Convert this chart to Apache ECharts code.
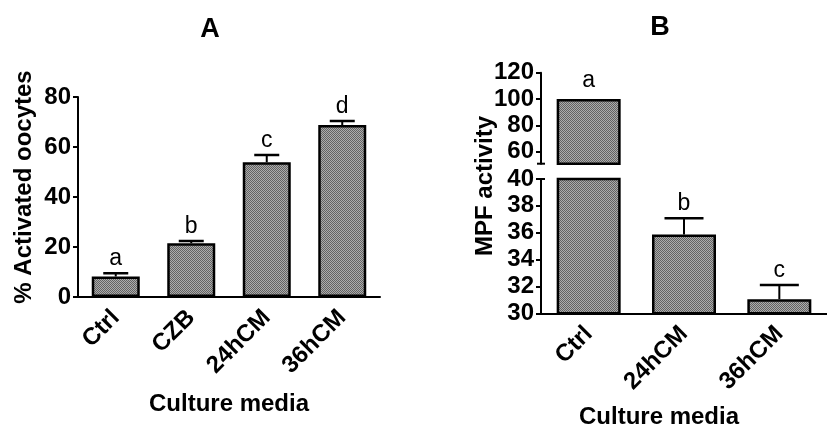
<!DOCTYPE html>
<html><head><meta charset="utf-8">
<script src="https://cdn.jsdelivr.net/npm/echarts@6/dist/echarts.min.js"></script>
<style>html,body{margin:0;padding:0;background:#fff}#c{width:827px;height:427px}</style>
</head><body><div id="c"></div>
<script>
// ---- data ----
const catsA = ['Ctrl', 'CZB', '24hCM', '36hCM'];
const valsA = [8.2, 21.5, 53.9, 68.8];
const errA = [9.5, 22.4, 56.8, 70.4];
const lettersA = ['a', 'b', 'c', 'd'];
const ticksA = [0, 20, 40, 60, 80];

const catsB = ['Ctrl', '24hCM', '36hCM'];
const valsB = [100, 35.87, 31.05];
const errB = [100, 37.07, 32.1];
const lettersB = ['a', 'b', 'c'];
const ticksBUpper = [60, 80, 100, 120];
const ticksBLower = [30, 32, 34, 36, 38, 40];
const upperMinB = 51;

// ---- styles ----
const FONT = "'Liberation Sans', Arial, sans-serif";
function makePattern() {
  const c = document.createElement('canvas');
  c.width = 2; c.height = 2;
  const g = c.getContext('2d');
  g.fillStyle = '#acacac'; g.fillRect(0, 0, 2, 2);
  g.fillStyle = '#626262'; g.fillRect(0, 0, 1, 1); g.fillRect(1, 1, 1, 1);
  return c;
}
const pattern = { image: makePattern(), repeat: 'repeat' };
const barStyle = { color: pattern, borderColor: '#000', borderWidth: 2.5 };
const labelFont = { color: '#000', fontSize: 24, fontWeight: 'bold', fontFamily: FONT };

function catAxis(grid, cats, show) {
  return {
    type: 'category', gridIndex: grid, data: cats, show: show,
    axisLine: { lineStyle: { color: '#000', width: 2 } },
    axisTick: { alignWithLabel: true, length: 6, lineStyle: { color: '#000', width: 2 } },
    axisLabel: Object.assign({ rotate: 45, margin: 17, interval: 0 }, labelFont)
  };
}
function valAxis(grid, min, max, extra) {
  return Object.assign({
    type: 'value', gridIndex: grid, min: min, max: max,
    splitLine: { show: false },
    axisLine: { show: true, lineStyle: { color: '#000', width: 2 } },
    axisTick: { show: true, length: 5, lineStyle: { color: '#000', width: 2 } },
    axisLabel: Object.assign({ margin: 7 }, labelFont)
  }, extra || {});
}

function errSeries(xi, yi, vals, errs, letters, capHalf, filter) {
  const data = [];
  vals.forEach((v, i) => { if (filter(i)) data.push([i, v, errs[i], i]); });
  return {
    type: 'custom', xAxisIndex: xi, yAxisIndex: yi, z: 5, clip: false,
    data: data,
    renderItem: function (params, api) {
      const i = api.value(0);
      const p0 = api.coord([i, api.value(1)]);
      const p1 = api.coord([i, api.value(2)]);
      const idx = api.value(3);
      const children = [];
      if (p0[1] - p1[1] > 1) {
        children.push({ type: 'line', shape: { x1: p0[0], y1: p0[1], x2: p1[0], y2: p1[1] }, style: { stroke: '#000', lineWidth: 2 } });
        children.push({ type: 'line', shape: { x1: p1[0] - capHalf, y1: p1[1], x2: p1[0] + capHalf, y2: p1[1] }, style: { stroke: '#000', lineWidth: 2.5 } });
      }
      children.push({ type: 'text', x: p1[0], y: p1[1] - (p0[1] - p1[1] > 1 ? 3 : 7), style: { text: letters[idx], fill: '#000', font: '23px ' + FONT, textAlign: 'center', textVerticalAlign: 'bottom' } });
      return { type: 'group', children: children };
    }
  };
}

function txt(id, x, y, text, size, rot) {
  return { id: id, type: 'text', x: x, y: y, rotation: rot || 0, style: { text: text, font: 'bold ' + size + 'px ' + FONT, fill: '#000', textAlign: 'center', textVerticalAlign: 'middle' } };
}

const option = {
  animation: false,
  backgroundColor: '#fff',
  grid: [
    { left: 78, top: 97, width: 302, height: 200 },
    { left: 541, top: 72.7, width: 294, height: 91 },
    { left: 541, top: 179, width: 294, height: 134.3 }
  ],
  xAxis: [catAxis(0, catsA, true), catAxis(1, catsB, false), catAxis(2, catsB, true)],
  yAxis: [
    valAxis(0, ticksA[0], ticksA[ticksA.length - 1], { interval: 20 }),
    valAxis(1, upperMinB, ticksBUpper[ticksBUpper.length - 1], {
      axisLabel: Object.assign({ margin: 7, customValues: ticksBUpper }, labelFont),
      axisTick: { show: true, length: 5, lineStyle: { color: '#000', width: 2 }, customValues: ticksBUpper }
    }),
    valAxis(2, ticksBLower[0], ticksBLower[ticksBLower.length - 1], { interval: 2 })
  ],
  series: [
    { type: 'bar', xAxisIndex: 0, yAxisIndex: 0, data: valsA, barWidth: 48, itemStyle: barStyle },
    { type: 'bar', xAxisIndex: 1, yAxisIndex: 1, data: valsB.map(v => v > upperMinB ? v : null), barWidth: 64, itemStyle: barStyle },
    { type: 'bar', xAxisIndex: 2, yAxisIndex: 2, data: valsB, barWidth: 64, itemStyle: barStyle },
    errSeries(0, 0, valsA, errA, lettersA, 12.5, () => true),
    errSeries(1, 1, valsB, errB, lettersB, 19.5, i => errB[i] > upperMinB),
    errSeries(2, 2, valsB, errB, lettersB, 19.5, i => errB[i] <= upperMinB)
  ],
  graphic: [
    txt('tA', 210, 30, 'A', 27),
    txt('tB', 660, 28, 'B', 27),
    txt('yA', 24, 187, '% Activated oocytes', 24, Math.PI / 2),
    txt('yB', 485, 186, 'MPF activity', 24, Math.PI / 2),
    txt('xA', 229, 404, 'Culture media', 24),
    txt('xB', 659, 417, 'Culture media', 24)
  ]
};
const chart = echarts.init(document.getElementById('c'), null, { renderer: 'canvas' });
chart.setOption(option);

// axis-break end caps, placed through the axes' own scales
const yTop = chart.convertToPixel({ xAxisIndex: 2, yAxisIndex: 2 }, [0, ticksBLower[ticksBLower.length - 1]])[1];
const yBot = chart.convertToPixel({ xAxisIndex: 1, yAxisIndex: 1 }, [0, upperMinB])[1];
const axisPx = chart.getModel().getComponent('grid', 2).coordinateSystem.getRect().x;
chart.setOption({
  graphic: [
    { id: 'cap1', type: 'line', z: 10, shape: { x1: axisPx - 4, y1: yBot, x2: axisPx + 4, y2: yBot }, style: { stroke: '#000', lineWidth: 2 } },
    { id: 'cap2', type: 'line', z: 10, shape: { x1: axisPx - 4, y1: yTop, x2: axisPx + 4, y2: yTop }, style: { stroke: '#000', lineWidth: 2 } }
  ]
});
</script>
</body></html>
